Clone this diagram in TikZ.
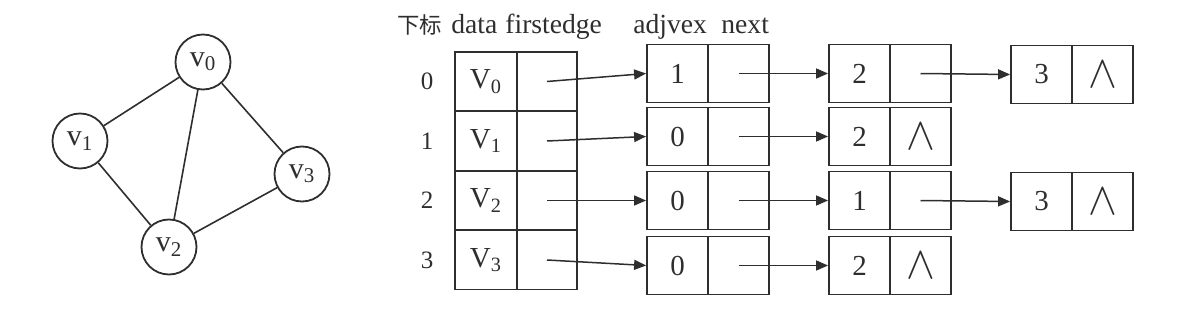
\documentclass[tikz,border=0pt]{standalone}
\usepackage{fontspec}
\usepackage{graphicx}
\setmainfont{Liberation Serif}
\newfontfamily\cjk{Noto Sans CJK SC}
\usetikzlibrary{arrows.meta}
\definecolor{ink}{HTML}{2e2e2e}
\tikzset{
  cell/.style={draw=ink, line width=0.9pt, minimum width=30.5pt, minimum height=29pt, inner sep=0pt, text=ink, font=\fontsize{14.5}{16}\selectfont},
  hcell/.style={cell, minimum height=29.5pt},
  vtx/.style={circle, draw=ink, line width=0.9pt, minimum size=27.5pt, inner sep=0pt, text=ink, font=\fontsize{15}{17}\selectfont},
  idx/.style={text=ink, inner sep=0pt, font=\fontsize{12.5}{14}\selectfont},
  hdr/.style={text=ink, inner sep=0pt, anchor=base west, font=\fontsize{13.8}{16}\selectfont},
  edge/.style={draw=ink, line width=0.8pt},
  arr/.style={draw=ink, line width=0.75pt, -{Triangle[length=6pt,width=5pt]}}
}
\newcommand{\nil}{\scalebox{1.5}[1.6]{$\wedge$}}
\begin{document}
\begin{tikzpicture}[x=0.5pt,y=-0.5pt]
\useasboundingbox (0,0) rectangle (1191,316);
% graph
\node[vtx] (g0) at (203,62) {v\textsubscript{0}};
\node[vtx] (g1) at (80,141) {v\textsubscript{1}};
\node[vtx] (g3) at (302,174) {v\textsubscript{3}};
\node[vtx] (g2) at (169,247) {v\textsubscript{2}};
\draw[edge] (g0) -- (g1);
\draw[edge] (g0) -- (g2);
\draw[edge] (g0) -- (g3);
\draw[edge] (g1) -- (g2);
\draw[edge] (g2) -- (g3);
% header
\node[hdr, font=\cjk\fontsize{11.2}{13}\selectfont] (h0) at (397,33) {下标};
\node[hdr] (h1) at (451,33) {data};
\node[hdr] (h2) at (505,33) {firstedge};
\node[hdr] (h3) at (633,33) {adjvex};
\node[hdr] (h4) at (721,33) {next};
% head table
\foreach \i/\y in {0/81.5,1/141,2/200.5,3/260}{
  \node[idx] (i\i) at (427,\y) {\i};
  \node[hcell, minimum width=31pt] (d\i) at (486,\y) {V\textsubscript{\i}};
  \node[hcell, minimum width=30pt] (p\i) at (547,\y) {};
}
% edge nodes column 1
\node[cell] (a0) at (677.5,73.5) {1};  \node[cell] (n0) at (738.5,73.5) {};
\node[cell] (a1) at (677.5,136.5) {0}; \node[cell] (n1) at (738.5,136.5) {};
\node[cell] (a2) at (677.5,200.5) {0}; \node[cell] (n2) at (738.5,200.5) {};
\node[cell] (a3) at (677.5,265.5) {0}; \node[cell] (n3) at (738.5,265.5) {};
% column 2
\node[cell] (b0) at (859.5,73.5) {2};  \node[cell] (m0) at (920.5,73.5) {};
\node[cell] (b1) at (859.5,136.5) {2}; \node[cell] (m1) at (920.5,136.5) {\nil};
\node[cell] (b2) at (859.5,200.5) {1}; \node[cell] (m2) at (920.5,200.5) {};
\node[cell] (b3) at (859.5,265.5) {2}; \node[cell] (m3) at (920.5,265.5) {\nil};
% column 3
\node[cell] (c0) at (1041.5,74.5) {3};  \node[cell] (k0) at (1102.5,74.5) {\nil};
\node[cell] (c2) at (1041.5,201.5) {3}; \node[cell] (k2) at (1102.5,201.5) {\nil};
% arrows
\foreach \i in {0,1,2,3}{
  \draw[arr] (p\i.center) -- (a\i.west);
  \draw[arr] (n\i.center) -- (b\i.west);
}
\draw[arr] (m0.center) -- (c0.west);
\draw[arr] (m2.center) -- (c2.west);
\end{tikzpicture}
\end{document}
